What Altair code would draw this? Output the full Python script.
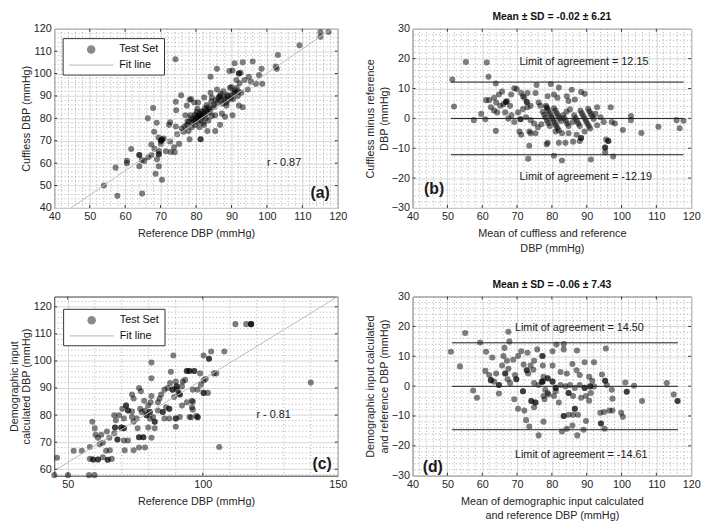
import altair as alt
import pandas as pd

FONT = "Liberation Sans"
TXT = "#262626"

# ---------------- data ----------------
# (a) reference DBP vs cuffless DBP
a_points = [
    (54.0, 50.0), (57.3, 58.0), (57.8, 45.4), (60.5, 60.0), (60.5, 61.1), (61.7, 66.3), (64.0, 63.6), (64.0, 63.6),
    (64.0, 58.6), (64.8, 46.4), (64.7, 61.4), (65.4, 61.0), (66.5, 62.6), (66.4, 80.0), (67.4, 63.6), (67.4, 68.3),
    (67.9, 84.6), (68.2, 74.0), (68.3, 66.4), (68.6, 55.3), (68.9, 78.0), (69.0, 61.7), (69.4, 71.4), (69.5, 58.6),
    (69.5, 64.0), (69.5, 64.0), (69.5, 65.4), (70.1, 70.0), (70.1, 70.0), (70.1, 68.6), (70.4, 52.6), (70.4, 70.6),
    (70.4, 70.6), (70.9, 71.0), (71.5, 65.3), (72.4, 77.1), (72.7, 78.3), (72.7, 69.7), (72.9, 65.0), (73.8, 67.1),
    (74.0, 64.9), (74.2, 106.4), (74.3, 76.4), (74.3, 87.4), (74.4, 83.6), (74.7, 72.9), (75.2, 68.6), (75.8, 90.3),
    (76.0, 75.5), (76.5, 74.0), (76.8, 76.5), (77.0, 81.4), (77.4, 85.7), (77.5, 77.0), (77.6, 78.6), (77.9, 74.3),
    (78.0, 78.5), (78.2, 70.7), (78.2, 88.3), (78.4, 81.4), (78.6, 80.0), (78.6, 88.6), (78.8, 76.0), (79.0, 78.0),
    (79.2, 79.5), (79.5, 79.0), (79.5, 87.1), (79.7, 81.7), (79.8, 77.0), (80.0, 80.0), (80.0, 81.0), (80.2, 82.9),
    (80.4, 84.3), (80.5, 78.5), (80.5, 80.0), (80.6, 87.1), (80.8, 81.0), (80.9, 81.4), (81.0, 76.0), (81.0, 82.0),
    (81.2, 79.0), (81.3, 70.7), (81.3, 70.7), (81.5, 83.0), (81.5, 81.0), (81.8, 80.5), (82.0, 78.0), (82.0, 83.0),
    (82.2, 82.0), (82.3, 77.1), (82.3, 89.3), (82.5, 84.5), (82.5, 82.0), (82.8, 80.0), (83.0, 86.0), (83.0, 84.0),
    (83.2, 74.3), (83.3, 82.5), (83.5, 79.0), (83.5, 85.0), (83.8, 84.0), (84.0, 83.0), (84.1, 91.4), (84.1, 98.6),
    (84.3, 87.5), (84.5, 89.3), (84.5, 81.0), (85.0, 86.0), (85.0, 85.0), (85.4, 81.4), (85.4, 74.3), (85.5, 88.0),
    (85.9, 92.9), (85.9, 102.1), (86.0, 87.0), (86.3, 89.0), (86.5, 89.5), (86.8, 77.1), (86.8, 90.0), (87.0, 91.0),
    (87.0, 88.0), (87.3, 82.1), (87.5, 86.5), (87.7, 92.1), (88.0, 89.5), (88.0, 88.5), (88.2, 80.7), (88.5, 87.0),
    (88.6, 85.7), (88.8, 90.5), (89.0, 90.0), (89.0, 88.0), (89.4, 101.1), (89.6, 93.6), (89.8, 89.0), (90.0, 90.0),
    (90.0, 94.0), (90.3, 81.4), (90.3, 101.4), (90.5, 88.6), (90.5, 91.4), (90.9, 104.6), (91.0, 92.5), (91.0, 91.5),
    (91.4, 97.1), (91.5, 93.5), (91.8, 90.0), (92.0, 92.0), (92.1, 85.7), (92.1, 100.0), (92.1, 100.0), (92.3, 95.7),
    (92.6, 100.4), (92.8, 91.4), (93.2, 85.0), (93.2, 105.0), (93.7, 97.1), (94.6, 92.9), (94.9, 98.6), (95.5, 96.4),
    (96.0, 105.4), (96.9, 95.4), (97.8, 99.3), (98.5, 102.1), (98.7, 95.4), (102.5, 103.1), (102.8, 102.1),
    (103.1, 108.3), (109.2, 112.6), (115.1, 118.6), (117.4, 118.6), (115.1, 116.4),
]
a_fit = [(44.7, 40.0), (118.3, 120.0)]

# (b) Bland-Altman: mean vs difference (cuffless)
b_points = [
    (55.3, 18.9), (61.3, 18.7), (61.8, 13.9), (51.4, 13.0), (51.9, 4.0), (57.6, -0.6), (59.7, 1.5), (60.9, -0.3),
    (63.9, 11.7), (63.9, -4.2), (61.1, 6.1), (62.0, 6.1), (63.4, 6.9), (64.0, 5.3), (64.8, 8.0), (65.7, 9.0),
    (62.5, 3.7), (63.4, 2.6), (64.3, 2.0), (65.2, 4.2), (66.1, 4.7), (67.1, 5.8), (68.0, 4.2), (66.6, 2.0),
    (67.5, -0.1), (69.2, 10.1), (69.9, 9.8), (68.3, 8.0), (71.2, 8.5), (72.1, 6.9), (68.4, 1.0), (69.2, -1.2),
    (70.3, 2.0), (71.7, 3.1), (73.0, 3.7), (73.9, 4.2), (71.2, -5.5), (73.5, -4.4), (73.9, -5.0), (75.3, -5.0),
    (73.5, -9.2), (73.2, -13.5), (72.6, 0.4), (73.9, -0.6), (74.9, -1.7), (75.6, 11.2), (76.2, 5.3), (76.7, 4.2),
    (78.5, 3.7), (75.3, 8.5), (73.0, 8.5), (71.7, 7.4), (78.5, -8.7), (70.7, -4.4), (66.8, 5.5), (66.8, 5.5),
    (72.8, 5.5), (72.8, 5.5), (71.0, -0.3), (71.0, -0.3),
    (79.7, 11.5), (82.0, 10.3), (85.7, 9.6), (88.4, 8.8), (89.4, 8.2), (78.8, 7.4), (80.6, 8.0), (81.6, 6.9),
    (84.3, 7.4), (86.6, 6.3), (84.8, 5.8), (93.0, 3.7), (96.9, 3.7), (102.7, 0.8), (102.7, -0.6), (100.4, -3.9),
    (105.7, -4.9), (110.6, -2.8), (115.8, -0.6), (116.7, -3.3), (117.8, -0.8), (95.6, -7.1), (96.2, -7.6),
    (96.2, -7.6), (95.3, -9.8), (95.3, -9.8), (95.3, -11.4), (97.6, -12.8), (91.2, -13.8), (82.9, -14.1),
    (80.6, -12.5), (83.9, -8.2), (82.0, -8.2), (78.8, -8.2), (86.1, -7.8), (88.0, -7.6), (88.4, -6.6), (88.4, -6.6),
    (89.4, -4.4), (87.1, -5.5), (84.8, -5.0), (82.9, -5.0), (81.1, -4.4), (93.0, -2.3), (94.9, -1.2), (97.2, -1.2),
    (98.1, -1.7), (94.0, 0.4), (76.0, -3.0), (77.0, -2.0), (84.2, 2.2), (85.2, 3.0), (86.0, -1.2), (92.5, 1.5),
    (78.3, 4.2), (78.7, 3.3), (79.0, 2.5), (79.4, 1.6), (79.8, 0.8), (80.1, 0.0), (80.5, -0.8), (80.9, -1.6),
    (81.2, -2.4), (81.6, -3.2), (82.0, -4.0), (77.4, 2.2), (77.8, 1.2), (78.2, 0.3), (78.6, -0.7), (79.0, -1.6),
    (79.4, -2.6), (80.6, 3.4), (81.0, 2.6), (81.4, 1.7), (81.8, 0.9), (82.2, 0.0), (82.6, -0.9), (83.2, 1.0),
    (83.6, 0.1), (84.0, -0.8), (84.4, -1.7), (84.8, -2.6), (88.2, 2.6), (88.6, 1.7), (89.0, 0.9), (89.4, 0.0),
    (89.8, -0.9), (90.2, -1.7), (90.6, -2.6), (91.0, -3.4), (90.4, 3.2), (90.8, 2.4), (91.2, 1.5), (91.6, 0.7),
    (92.0, -0.2), (86.4, 1.0), (86.8, 0.1), (87.2, -0.8), (87.6, -1.7), (88.0, -2.6),
]
b_limits = [12.15, -0.02, -12.19]
b_limit_span = (51.0, 117.8)

# (c) reference DBP vs demographic-input calculated DBP
c_points = [
    (45.0, 57.8), (50.1, 57.8), (57.9, 57.8), (59.9, 57.8),
    (46.0, 64.2), (52.2, 66.8), (55.2, 66.8), (58.2, 68.2), (59.1, 77.5), (60.0, 75.1), (60.3, 72.7), (61.2, 71.6),
    (61.8, 69.2), (63.0, 69.8), (64.2, 66.8), (65.6, 67.0), (66.3, 63.8), (64.8, 63.5), (64.8, 63.5), (58.2, 63.8),
    (59.4, 63.6), (59.4, 63.6), (61.2, 63.6), (61.2, 63.6), (63.0, 64.4),
    (62.4, 72.7), (64.5, 73.9), (65.4, 71.6), (67.2, 73.3), (67.2, 79.9), (67.8, 78.1), (69.0, 79.9), (67.5, 75.4),
    (67.5, 75.4), (69.8, 75.4), (69.8, 75.4), (70.8, 75.1), (70.8, 75.1), (68.4, 71.0), (68.4, 71.0), (70.8, 70.6),
    (72.3, 70.6), (71.1, 67.0), (74.4, 67.0),
    (70.2, 82.3), (71.6, 83.5), (71.6, 83.5), (72.3, 81.7), (72.3, 81.7), (73.8, 81.3), (70.8, 78.7), (73.8, 79.3),
    (74.4, 77.5), (75.6, 78.7), (75.9, 75.1), (76.4, 71.8), (76.4, 71.8), (78.0, 71.8), (78.0, 71.8), (76.4, 68.0),
    (78.6, 68.0),
    (73.8, 87.6), (74.4, 86.1), (76.4, 90.0), (77.1, 88.8), (78.3, 85.3), (79.8, 83.5), (80.7, 84.7), (81.0, 87.0),
    (81.0, 93.6), (81.0, 99.4),
    (76.8, 82.3), (77.4, 81.1), (78.6, 81.7), (79.2, 79.9), (79.2, 79.9), (80.4, 81.1), (80.4, 81.1), (80.4, 78.7),
    (81.6, 79.3), (82.2, 77.5), (82.2, 77.5), (82.2, 75.1), (79.8, 75.4), (81.0, 71.6),
    (83.4, 84.7), (84.0, 86.1), (84.6, 87.6), (85.8, 89.4), (87.0, 90.0), (87.9, 91.8), (88.2, 96.0), (89.1, 102.0),
    (90.0, 92.4), (90.5, 89.4), (91.1, 88.2), (92.3, 90.6), (93.5, 93.0), (94.1, 96.3), (94.1, 96.3), (95.1, 96.3),
    (95.1, 96.3), (96.8, 96.3), (88.8, 89.4), (88.8, 89.4), (90.3, 90.6), (90.3, 90.6), (91.5, 87.6), (91.5, 87.6),
    (89.4, 86.7), (92.6, 92.4),
    (83.4, 81.7), (85.2, 81.1), (85.2, 81.1), (86.4, 82.9), (87.6, 82.3), (87.6, 82.3), (85.8, 78.7), (87.6, 78.7),
    (90.0, 78.7), (90.0, 78.7), (90.0, 75.7), (91.5, 79.3), (95.1, 79.3), (97.7, 79.7), (96.0, 82.9), (96.0, 85.3),
    (94.1, 84.7), (92.3, 83.5),
    (112.1, 113.6), (116.1, 113.6), (117.9, 113.6), (117.9, 113.6), (117.9, 113.6), (100.3, 102.0), (102.3, 100.8),
    (102.3, 100.8), (103.1, 103.5), (108.0, 103.5), (96.9, 96.3), (99.0, 95.4), (104.1, 95.4), (105.0, 95.4),
    (100.3, 92.8), (101.1, 93.3), (99.3, 91.2), (98.1, 89.4), (96.3, 89.4), (100.3, 88.2), (100.3, 88.2),
    (101.9, 88.2), (96.3, 84.9), (96.3, 82.0), (98.1, 79.2), (98.1, 79.2), (95.7, 79.2), (140.0, 92.0), (106.1, 68.2),
]
c_fit = [(45.0, 59.4), (150.0, 123.8)]

# (d) Bland-Altman: mean vs difference (demographic input)
d_points = [
    (51.0, 11.5), (53.6, 6.6), (55.1, 17.8), (59.4, 14.6), (57.4, -1.5), (58.5, -3.9), (61.1, 11.5), (60.9, 5.1),
    (62.0, 3.7), (62.5, 2.0), (62.5, 2.0), (63.4, 1.5), (62.9, 9.6), (64.0, 4.2), (64.8, 0.4), (64.8, 0.4),
    (64.8, -2.5), (66.1, 10.1), (66.4, 12.8), (67.5, 18.2), (67.8, 14.9), (67.1, 8.5), (65.7, 6.9), (67.5, 5.8),
    (66.6, 4.2), (66.6, 4.2), (67.3, 2.3), (68.0, 1.0), (68.9, 8.8), (70.3, 10.1), (69.4, 3.7), (69.8, 2.3),
    (69.8, 2.3), (69.2, -4.4), (71.7, -1.7), (71.7, -1.7), (71.2, 11.7), (73.0, 11.2), (72.8, 5.3), (72.8, 5.3),
    (73.2, 4.2), (71.9, 7.2), (73.9, 6.9), (74.9, 8.5), (77.2, 10.1), (75.8, 12.3), (74.7, 5.5), (74.1, -5.0),
    (74.1, -5.0), (74.9, -7.1), (75.3, -5.5), (75.3, -5.5), (70.3, -7.6), (72.1, -8.2), (72.6, -11.4), (73.5, -13.5),
    (76.2, -16.5), (77.6, -11.9), (74.9, 1.0), (76.2, 0.4), (77.2, 1.5), (77.2, 1.5), (77.6, 3.1), (78.1, -1.2),
    (79.0, -2.8), (77.6, -3.3),
    (81.3, 13.9), (83.4, 14.1), (87.2, 11.9), (95.5, 12.6), (83.4, 12.3), (80.2, 11.7), (77.4, 10.1), (77.4, 6.9),
    (80.2, 6.9), (82.5, 4.7), (84.3, 4.2), (85.9, 7.4), (87.1, 5.3), (89.4, 8.0), (92.1, 8.0), (88.0, 3.7),
    (90.7, 3.1), (91.6, 1.8), (94.4, 3.9), (95.3, 1.8), (95.3, 1.8), (95.8, 0.4), (101.1, 1.2), (103.6, 0.1),
    (113.0, 1.0), (115.0, -2.8), (116.1, -5.0), (116.1, -5.0), (105.9, -5.0), (101.5, -1.9), (101.5, -1.9),
    (97.2, -1.2), (97.4, -4.2),
    (77.4, 1.5), (78.8, 2.6), (78.8, 2.6), (80.2, 1.5), (80.2, 1.5), (81.1, -0.6), (81.1, -0.6), (82.5, 0.4),
    (83.9, -0.1), (85.2, 0.4), (86.6, -0.6), (88.0, 0.4), (89.4, -0.6), (89.4, -0.6), (91.0, -0.1), (91.0, -0.1),
    (92.1, -0.1), (78.8, -2.3), (80.6, -3.3), (77.9, -4.4), (82.0, -5.5), (81.1, -1.7), (84.8, -2.3), (84.8, -2.3),
    (86.1, -3.3), (88.4, -3.9), (89.8, -3.3), (90.7, -4.9), (91.2, -2.3), (86.6, -7.6), (86.6, -7.6), (84.8, -9.6),
    (86.1, -9.6), (87.5, -9.6), (83.4, -10.0), (83.4, -10.0), (89.8, -11.7), (93.9, -8.9), (95.0, -8.7), (96.5, -8.2),
    (97.4, -8.2), (99.9, -8.9), (100.4, -10.3), (94.1, -12.5), (94.1, -12.5), (95.1, -14.3), (89.1, -14.6),
    (87.3, -16.5), (84.3, -14.3), (82.9, -15.2), (85.9, -13.2),
]
d_limits = [14.50, -0.06, -14.61]
d_limit_span = (51.3, 116.2)

# axis tick values
ticks_10_40_120 = [40, 50, 60, 70, 80, 90, 100, 110, 120]
ticks_pm30 = [-30, -20, -10, 0, 10, 20, 30]
c_xticks = [50, 100, 150]
c_yticks = [60, 70, 80, 90, 100, 110, 120]


def minor(lo, hi, step, majors):
    vals = []
    v = lo
    while v <= hi + 1e-9:
        if all(abs(v - m) > 1e-6 for m in majors):
            vals.append(round(v, 3))
        v += step
    return vals


def panel(points, xdom, ydom, xmaj, ymaj, xminor, yminor, xtitle, ytitle,
          lines, texts, legend, title=None, W=288, H=182, ytlh=14):
    X = alt.X("x:Q", scale=alt.Scale(domain=xdom, nice=False, zero=False),
              axis=alt.Axis(values=xmaj, title=xtitle, format="d"))
    Y = alt.Y("y:Q", scale=alt.Scale(domain=ydom, nice=False, zero=False),
              axis=alt.Axis(values=ymaj, title=ytitle, format="d", titleLineHeight=ytlh))
    layers = []
    dot = dict(color="#9a9a9a", strokeDash=[1, 2.5], strokeWidth=0.8)
    layers.append(alt.Chart(pd.DataFrame({"x": xminor})).mark_rule(**dot).encode(x=X))
    layers.append(alt.Chart(pd.DataFrame({"y": yminor})).mark_rule(**dot).encode(y=Y))
    pdf = pd.DataFrame(points, columns=["x", "y"])
    layers.append(alt.Chart(pdf).mark_circle(size=38, color="black", opacity=0.5).encode(x=X, y=Y))
    layers.extend(lines(X, Y))
    # inward tick marks on all four sides
    xt = alt.Chart(pd.DataFrame({"x": [v for v in xmaj if xdom[0] < v < xdom[1]]}))
    yt = alt.Chart(pd.DataFrame({"y": [v for v in ymaj if ydom[0] < v < ydom[1]]}))
    tk = dict(color="#333333", strokeWidth=1)
    layers.append(xt.mark_rule(**tk).encode(x=X, y=alt.value(H), y2=alt.value(H - 3)))
    layers.append(xt.mark_rule(**tk).encode(x=X, y=alt.value(0), y2=alt.value(3)))
    layers.append(yt.mark_rule(**tk).encode(y=Y, x=alt.value(0), x2=alt.value(3)))
    layers.append(yt.mark_rule(**tk).encode(y=Y, x=alt.value(W), x2=alt.value(W - 3)))
    for (tx, ty, t, size, weight, align) in texts:
        layers.append(alt.Chart(pd.DataFrame({"x": [tx], "y": [ty], "t": [t]})).mark_text(
            font=FONT, fontSize=size, fontWeight=weight, color="#1a1a1a", align=align,
            baseline="middle").encode(x=X, y=Y, text="t:N"))
    if legend is not None:
        lx0, ly0 = legend
        one = alt.Chart(pd.DataFrame({"k": [0]}))
        layers.append(one.mark_rect(fill="white", stroke="#333333", strokeWidth=1).encode(
            x=alt.value(lx0), x2=alt.value(lx0 + 103), y=alt.value(ly0), y2=alt.value(ly0 + 37)))
        layers.append(one.mark_circle(size=75, color="#8a8a8a", opacity=1).encode(
            x=alt.value(lx0 + 28.5), y=alt.value(ly0 + 11)))
        layers.append(one.mark_rule(color="#c4c4c4", strokeWidth=1.2).encode(
            x=alt.value(lx0 + 6), x2=alt.value(lx0 + 51), y=alt.value(ly0 + 27)))
        layers.append(one.mark_text(font=FONT, fontSize=11, color="#111", align="left",
                                    baseline="middle").encode(
            x=alt.value(lx0 + 57), y=alt.value(ly0 + 11), text=alt.value("Test Set")))
        layers.append(one.mark_text(font=FONT, fontSize=11, color="#111", align="left",
                                    baseline="middle").encode(
            x=alt.value(lx0 + 57), y=alt.value(ly0 + 27), text=alt.value("Fit line")))
    ch = alt.layer(*layers).properties(width=W, height=H)
    if title is not None:
        ch = ch.properties(title=alt.TitleParams(title, font=FONT, fontSize=10.5, fontWeight="bold",
                                                 color="#111", offset=0, anchor="middle",
                                                 frame="group"))
    return ch


def fit_lines(fit):
    def f(X, Y):
        return [alt.Chart(pd.DataFrame(fit, columns=["x", "y"])).mark_line(
            color="#bdbdbd", strokeWidth=1).encode(x=X, y=Y)]
    return f


def limit_lines(lims, span):
    def f(X, Y):
        df = pd.DataFrame({"y": lims, "x": [span[0]] * len(lims), "x2": [span[1]] * len(lims)})
        return [alt.Chart(df).mark_rule(color="#1a1a1a", strokeWidth=1).encode(
            x=X, x2="x2:Q", y=Y)]
    return f


pa = panel(a_points, [40, 120], [40, 120], ticks_10_40_120, ticks_10_40_120,
           minor(40, 120, 2, ticks_10_40_120), minor(40, 120, 2, ticks_10_40_120),
           "Reference DBP (mmHg)", "Cuffless DBP (mmHg)", fit_lines(a_fit),
           [(100.0, 60.2, "r - 0.87", 11, "normal", "left"), (115.0, 46.6, "(a)", 16, "bold", "center")],
           legend=(9, 10), W=288)

pb = panel(b_points, [40, 120], [-30, 30], ticks_10_40_120, ticks_pm30,
           minor(40, 120, 2, ticks_10_40_120), minor(-30, 30, 2, ticks_pm30),
           ["Mean of cuffless and reference", "DBP (mmHg)"], ["Cuffless minus reference", "DBP (mmHg)"],
           limit_lines(b_limits, b_limit_span),
           [(70.7, 19.0, "Limit of agreement = 12.15", 11, "normal", "left"),
            (70.7, -19.5, "Limit of agreement = -12.19", 11, "normal", "left"),
            (46.2, -23.8, "(b)", 16, "bold", "center")],
           legend=None, title="Mean ± SD = -0.02 ± 6.21", W=283)

pc = panel(c_points, [45, 150], [57.6, 123.8], c_xticks, c_yticks,
           minor(50, 150, 10, c_xticks), minor(58, 122, 2, c_yticks),
           "Reference DBP (mmHg)", ["Demographic input", "calculated DBP (mmHg)"], fit_lines(c_fit),
           [(119.9, 79.9, "r - 0.81", 11, "normal", "left"), (144.2, 62.0, "(c)", 16, "bold", "center")],
           legend=(9.5, 13), W=288, ytlh=12)

pd_ = panel(d_points, [40, 120], [-30, 30], ticks_10_40_120, ticks_pm30,
            minor(40, 120, 2, ticks_10_40_120), minor(-30, 30, 2, ticks_pm30),
            ["Mean of demographic input calculated", "and reference DBP (mmHg)"],
            ["Demographic input calculated", "and reference DBP (mmHg)"],
            limit_lines(d_limits, d_limit_span),
            [(69.4, 19.6, "Limit of agreement = 14.50", 11, "normal", "left"),
             (69.4, -23.2, "Limit of agreement = -14.61", 11, "normal", "left"),
             (45.8, -27.0, "(d)", 16, "bold", "center")],
            legend=None, title="Mean ± SD = -0.06 ± 7.43", W=283)

chart = alt.concat(pa, pb, pc, pd_, columns=2,
                   spacing=alt.RowColnumber(row=26, column=16)).properties(
    padding={"left": 0, "top": 0, "right": 0, "bottom": 0}
).configure_view(stroke="#3a3a3a", strokeWidth=1).configure_axis(
    labelFont=FONT, titleFont=FONT, labelFontSize=11, titleFontSize=11, labelColor=TXT, titleColor=TXT,
    titleFontWeight="normal", grid=True, gridColor="#d6d6d6", gridWidth=1, domain=False, ticks=False,
    labelFlush=False, labelPadding=3, titlePadding=2,
).configure_axisX(titleLineHeight=15, titlePadding=6).configure_text(font=FONT)

chart.save("out.html", embed_options={"renderer": "svg", "actions": False})
